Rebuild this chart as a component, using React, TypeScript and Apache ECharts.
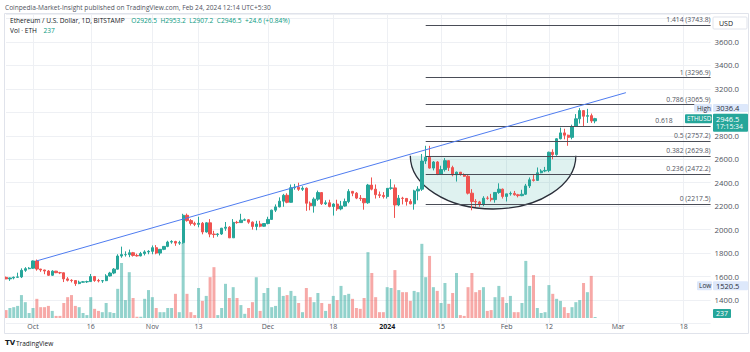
import React, { useEffect, useRef } from "react";
import * as echarts from "echarts";

// ---------- data (ETH/USD daily, Bitstamp) ----------
const START_DATE = "2023-09-24"; // first candle
const AXIS_DAYS = 184; // Sep 24 2023 .. Mar 25 2024 (time axis extends past data)

const opens = [
  1593, 1580, 1588, 1594, 1597, 1653, 1667, 1671, 1733, 1664,
  1656, 1647, 1611, 1646, 1633, 1632, 1580, 1568, 1566, 1540,
  1552, 1555, 1557, 1600, 1566, 1563, 1565, 1605, 1630, 1663,
  1775, 1787, 1787, 1803, 1780, 1776, 1796, 1810, 1815, 1846,
  1800, 1832, 1857, 1894, 1899, 1885, 1889, 2122, 2077, 2053,
  2045, 2054, 1980, 2058, 1962, 1958, 1963, 2012, 2021, 1930,
  2062, 2060, 2081, 2084, 2064, 2027, 2048, 2029, 2052, 2087,
  2166, 2194, 2243, 2293, 2233, 2357, 2362, 2344, 2353, 2225,
  2203, 2260, 2316, 2221, 2229, 2197, 2218, 2177, 2201, 2239,
  2326, 2311, 2269, 2265, 2229, 2380, 2345, 2298, 2292, 2282,
  2352, 2356, 2210, 2268, 2266, 2240, 2220, 2330, 2345, 2585,
  2617, 2525, 2577, 2472, 2512, 2588, 2529, 2468, 2490, 2470,
  2455, 2311, 2240, 2236, 2217, 2268, 2267, 2256, 2317, 2345,
  2283, 2305, 2309, 2297, 2290, 2302, 2373, 2425, 2420, 2485,
  2500, 2505, 2660, 2640, 2775, 2825, 2805, 2787, 2880, 2945,
  3015, 2967, 2972, 2926.5,
];
const closes = [
  1580, 1588, 1594, 1597, 1653, 1667, 1671, 1733, 1664, 1656,
  1647, 1611, 1646, 1633, 1632, 1580, 1568, 1566, 1540, 1552,
  1555, 1557, 1600, 1566, 1563, 1565, 1605, 1630, 1663, 1775,
  1787, 1787, 1803, 1780, 1776, 1796, 1810, 1815, 1846, 1800,
  1832, 1857, 1894, 1899, 1885, 1889, 2122, 2077, 2053, 2045,
  2054, 1980, 2058, 1962, 1958, 1963, 2012, 2021, 1930, 2062,
  2060, 2081, 2084, 2064, 2027, 2048, 2029, 2052, 2087, 2166,
  2194, 2243, 2293, 2233, 2357, 2362, 2344, 2353, 2225, 2203,
  2260, 2316, 2221, 2229, 2197, 2218, 2177, 2201, 2239, 2326,
  2311, 2269, 2265, 2229, 2380, 2345, 2298, 2292, 2282, 2352,
  2356, 2210, 2268, 2266, 2240, 2220, 2330, 2345, 2585, 2617,
  2525, 2577, 2472, 2512, 2588, 2529, 2468, 2490, 2470, 2455,
  2311, 2240, 2236, 2217, 2268, 2267, 2256, 2317, 2345, 2283,
  2305, 2309, 2297, 2290, 2302, 2373, 2425, 2420, 2485, 2500,
  2505, 2660, 2640, 2775, 2825, 2805, 2787, 2880, 2945, 3015,
  2967, 2972, 2926.5, 2946.5,
];
const lows = [
  1578, 1563, 1576, 1590, 1587, 1640, 1662, 1665, 1650, 1640,
  1620, 1605, 1605, 1629, 1621, 1553, 1558, 1550, 1520.5, 1535,
  1548, 1545, 1554, 1555, 1550, 1546, 1561, 1600, 1620, 1660,
  1760, 1770, 1765, 1770, 1770, 1772, 1780, 1790, 1790, 1790,
  1780, 1825, 1850, 1880, 1862, 1870, 1880, 2068, 2035, 2030,
  2020, 1960, 1975, 1935, 1930, 1940, 1955, 1990, 1928, 1930,
  2050, 2060, 2076, 2050, 2000, 1995, 2020, 2025, 2045, 2085,
  2150, 2190, 2195, 2225, 2230, 2340, 2330, 2330, 2160, 2165,
  2145, 2245, 2210, 2210, 2190, 2120, 2160, 2165, 2195, 2225,
  2285, 2260, 2245, 2170, 2220, 2335, 2265, 2270, 2265, 2265,
  2340, 2100, 2200, 2215, 2205, 2215, 2170, 2250, 2330, 2560,
  2520, 2505, 2465, 2470, 2495, 2500, 2455, 2410, 2460, 2450,
  2300, 2165, 2195, 2195, 2200, 2255, 2240, 2230, 2305, 2265,
  2240, 2290, 2290, 2275, 2285, 2295, 2355, 2410, 2415, 2480,
  2490, 2490, 2600, 2630, 2770, 2770, 2715, 2770, 2875, 2905,
  2880, 2910, 2910, 2907.2,
];
const highs = [
  1600, 1592, 1600, 1633, 1670, 1680, 1680, 1737, 1745, 1665,
  1658, 1655, 1654, 1648, 1640, 1635, 1595, 1577, 1568, 1565,
  1562, 1565, 1622, 1605, 1580, 1570, 1620, 1640, 1672, 1790,
  1855, 1815, 1830, 1810, 1795, 1810, 1824, 1825, 1865, 1868,
  1835, 1860, 1905, 1910, 1905, 1905, 2135, 2137, 2090, 2068,
  2110, 2065, 2063, 2090, 1990, 1970, 2015, 2065, 2030, 2090,
  2075, 2135, 2095, 2090, 2070, 2075, 2075, 2055, 2110, 2170,
  2215, 2275, 2305, 2310, 2385, 2390, 2400, 2370, 2360, 2240,
  2275, 2333, 2320, 2250, 2255, 2225, 2255, 2245, 2265, 2345,
  2330, 2320, 2295, 2270, 2390, 2445, 2385, 2325, 2320, 2355,
  2430, 2385, 2295, 2280, 2270, 2260, 2340, 2370, 2645, 2715,
  2715, 2585, 2585, 2545, 2610, 2590, 2545, 2495, 2485, 2480,
  2465, 2345, 2260, 2245, 2285, 2285, 2305, 2320, 2395, 2350,
  2305, 2325, 2330, 2305, 2340, 2390, 2445, 2465, 2530, 2515,
  2535, 2665, 2685, 2780, 2870, 2860, 2810, 2895, 2985, 3036.4,
  3020, 3030, 2990, 2953.2,
];
// daily volume, ETH
const volumes = [
  1900, 2400, 2600, 2900, 5500, 3800, 1200, 2400, 4600, 2600,
  2600, 2900, 1700, 500, 500, 3600, 5000, 5500, 2900, 2600,
  1200, 700, 5000, 2200, 1700, 1400, 3600, 1400, 1200, 7000,
  13200, 4300, 11000, 4800, 300, 300, 4600, 6700, 5000, 2400,
  1400, 1400, 2400, 2400, 5800, 1400, 18000, 5800, 1400, 700,
  7200, 4100, 5300, 9800, 12200, 700, 2400, 8200, 4800, 7400,
  4800, 3100, 1000, 2400, 3800, 9800, 1700, 6000, 7200, 2600,
  2900, 7400, 5300, 5500, 6500, 5300, 3600, 1400, 7200, 5000,
  3800, 6000, 3600, 1700, 3400, 5300, 4300, 7700, 5500, 5800,
  4600, 2400, 2200, 4800, 15800, 10800, 5000, 1400, 1400, 7400,
  7200, 11500, 6700, 6200, 6200, 4100, 6500, 6200, 17800, 9800,
  14900, 7400, 6500, 3600, 8400, 3400, 6000, 10800, 700, 500,
  7400, 10800, 6200, 6700, 7400, 1700, 1900, 5000, 7700, 5000,
  3600, 5300, 1400, 1400, 3600, 13700, 7700, 10300, 2400, 1200,
  1400, 7900, 5800, 4600, 4100, 2600, 1200, 2600, 3800, 4300,
  8400, 6200, 10100, 237,
];

// time-axis tick labels
const tickDates = [
  "2023-10-01", "2023-10-16", "2023-11-01", "2023-11-13", "2023-12-01", "2023-12-18",
  "2024-01-01", "2024-01-15", "2024-02-01", "2024-02-12", "2024-03-01", "2024-03-18",
];
const tickLabels = ["Oct", "16", "Nov", "13", "Dec", "18", "2024", "15", "Feb", "12", "Mar", "18"];

// price-axis labels that are visible (3000 sits under the badges)
const priceLabels = [1400, 1600, 1800, 2000, 2200, 2400, 2600, 2800, 3200, 3400, 3600];

// Fibonacci retracement drawing
const fibRatios = ["0", "0.236", "0.382", "0.5", "0.618", "0.786", "1", "1.414"];
const fibPrices = [2217.5, 2472.2, 2629.8, 2757.2, 2884.6, 3065.9, 3296.9, 3743.8];
const fibStartDate = "2024-01-11";
const fibHiddenPriceRatio = "0.618"; // its price text sits under the ETHUSD badge

// trend line drawing
const trendDates = ["2023-10-02", "2024-03-03"];
const trendPrices = [1734, 3168];

// cup drawing (start, end, rim price, bottom price)
const cupDates = ["2024-01-07", "2024-02-19"];
const cupRim = 2630;
const cupBottom = 2176;

// header / status values
const lastO = "2926.5", lastH = "2953.2", lastL = "2907.2", lastC = "2946.5";
const lastChange = "+24.6 (+0.84%)";
const rangeHigh = 3036.4;
const rangeLow = 1520.5;
const lastPrice = 2946.5;
const countdown = "17:15:34";

const UP = "#26a69a";
const DOWN = "#ef5350";
const UP_VOL = "rgba(38,166,154,0.5)";
const DOWN_VOL = "rgba(239,83,80,0.5)";
const FONT = "'Open Sans', sans-serif";
const TXT = "#50535e";

function buildDates(start: string, count: number): string[] {
  const t0 = Date.UTC(+start.slice(0, 4), +start.slice(5, 7) - 1, +start.slice(8, 10));
  const out: string[] = [];
  for (let i = 0; i < count; i++) out.push(new Date(t0 + i * 86400000).toISOString().slice(0, 10));
  return out;
}

export default function App() {
  const ref = useRef<HTMLDivElement>(null);

  useEffect(() => {
    const el = ref.current!;
    const chart = echarts.init(el, null, { renderer: "svg" });
    const dates = buildDates(START_DATE, AXIS_DAYS);
    const candles = opens.map((o, i) => [o, closes[i], lows[i], highs[i]]);
    const lastDate = dates[dates.length - 1];

    const fibLines = fibPrices.map((p, k) => [
      {
        coord: [fibStartDate, p],
        label:
          fibRatios[k] === fibHiddenPriceRatio
            ? { formatter: fibRatios[k], padding: [0, 38, 0, 0] }
            : { formatter: `${fibRatios[k]} (${p.toFixed(1)})` },
      },
      { coord: [lastDate, p] },
    ]);

    const tickSet = new Set(tickDates);

    const option: any = {
      animation: false,
      backgroundColor: "#ffffff",
      grid: [
        { left: 6.05, right: 39.4, top: 14, bottom: 28.55 },
        { left: 6.05, right: 39.4, top: 200, bottom: 34 },
      ],
      xAxis: [
        {
          type: "category",
          gridIndex: 0,
          data: dates,
          boundaryGap: false,
          axisLine: { show: false },
          axisTick: { show: false },
          axisLabel: { show: false },
          splitLine: {
            show: true,
            interval: (_i: number, v: string) => tickSet.has(v),
            lineStyle: { color: "#eef0f4", width: 1 },
          },
        },
        {
          type: "category",
          gridIndex: 1,
          data: dates,
          boundaryGap: false,
          axisLine: { show: false },
          axisTick: { show: false },
          splitLine: { show: false },
          axisLabel: {
            show: true,
            interval: (_i: number, v: string) => tickSet.has(v),
            margin: 5,
            fontSize: 7,
            fontFamily: FONT,
            color: TXT,
            formatter: (v: string) => {
              const k = tickDates.indexOf(v);
              if (k < 0) return "";
              return tickLabels[k] === "2024" ? `{b|${tickLabels[k]}}` : tickLabels[k];
            },
            rich: { b: { fontWeight: "bold", fontSize: 7, fontFamily: FONT, color: "#131722" } },
          },
        },
      ],
      yAxis: [
        {
          type: "value",
          gridIndex: 0,
          position: "right",
          min: 1200,
          max: 3838.8,
          interval: 200,
          axisLine: { show: false },
          axisTick: { show: false },
          splitLine: { show: true, lineStyle: { color: "#eef0f4" } },
          axisLabel: {
            margin: 4,
            fontSize: 7.8,
            fontFamily: FONT,
            color: TXT,
            align: "left",
            formatter: (v: number) => (priceLabels.includes(v) ? v.toFixed(1) : ""),
          },
        },
        {
          type: "value",
          gridIndex: 1,
          min: 0,
          max: 28320,
          show: false,
          splitLine: { show: false },
        },
      ],
      series: [
        {
          type: "custom",
          name: "cup",
          xAxisIndex: 0,
          yAxisIndex: 0,
          z: 1,
          data: [[cupDates[0], cupRim]],
          renderItem: (_p: any, api: any) => {
            const L = api.coord([cupDates[0], cupRim]);
            const R = api.coord([cupDates[1], cupRim]);
            const B = api.coord([cupDates[0], cupBottom]);
            const rx = (R[0] - L[0]) / 2;
            const ry = B[1] - L[1];
            const arc = `M${L[0]} ${L[1]} A${rx} ${ry} 0 0 0 ${R[0]} ${R[1]}`;
            return {
              type: "group",
              children: [
                { type: "path", shape: { pathData: arc + " Z" }, style: { fill: "rgba(38,166,154,0.15)", stroke: null } },
                { type: "path", shape: { pathData: arc }, style: { fill: null, stroke: "#2a2e39", lineWidth: 1.3 } },
              ],
            };
          },
        },
        {
          type: "bar",
          name: "Vol",
          xAxisIndex: 1,
          yAxisIndex: 1,
          z: 1,
          barWidth: 3,
          data: volumes.map((v, i) => ({
            value: v,
            itemStyle: { color: closes[i] >= opens[i] ? UP_VOL : DOWN_VOL },
          })),
        },
        {
          type: "candlestick",
          name: "ETHUSD",
          xAxisIndex: 0,
          yAxisIndex: 0,
          z: 3,
          barWidth: 2.8,
          data: candles,
          itemStyle: { color: UP, color0: DOWN, borderColor: UP, borderColor0: DOWN, borderWidth: 1 },
          markLine: {
            silent: true,
            symbol: ["none", "none"],
            z: 4,
            lineStyle: { color: "#4a4d57", width: 1, type: "solid" },
            label: {
              position: "insideEndTop",
              distance: [0, 2],
              fontSize: 6.8,
              fontFamily: FONT,
              color: TXT,
            },
            data: [
              ...fibLines,
              [
                { coord: [trendDates[0], trendPrices[0]], lineStyle: { color: "#4f7cf0", width: 1 }, label: { show: false } },
                { coord: [trendDates[1], trendPrices[1]] },
              ],
            ],
          },
        },
      ],
    };
    chart.setOption(option);

    const yP = (v: number) => chart.convertToPixel({ yAxisIndex: 0 }, v) as number;
    const yV = (v: number) => chart.convertToPixel({ yAxisIndex: 1 }, v) as number;
    const axisX = 713;
    const yHi = yP(rangeHigh);
    const yLo = yP(rangeLow);
    const yLast = yP(lastPrice);
    const yVol = Math.min(yV(volumes[volumes.length - 1]), 313.5);

    const txt = (x: number, y: number, text: string, fill: string, extra: any = {}) => ({
      type: "text",
      x,
      y,
      style: { text, fill, fontSize: 7, lineHeight: 8, fontFamily: FONT, textVerticalAlign: "middle", ...extra },
      z: 100,
    });
    const box = (x: number, y: number, w: number, h: number, fill: string, extra: any = {}) => ({
      type: "rect",
      shape: { x, y, width: w, height: h, r: 1 },
      style: { fill, ...extra },
      z: 99,
    });

    chart.setOption({
      graphic: [
        // frame
        { type: "rect", shape: { x: 4.5, y: 13.5, width: 744, height: 320 }, style: { fill: null, stroke: "#e0e3eb", lineWidth: 1 }, z: 50, silent: true },
        // header
        txt(5, 7, "Coinpedia-Market-Insight published on TradingView.com, Feb 24, 2024 12:14 UTC+5:30", TXT, { fontSize: 6.6 }),
        {
          type: "text",
          x: 10,
          y: 20,
          z: 100,
          style: {
            text: `{a|Ethereum / U.S. Dollar, 1D, BITSTAMP}  {b|O${lastO}  H${lastH}  L${lastL}  C${lastC}  ${lastChange}}`,
            textVerticalAlign: "middle",
            rich: {
              a: { fill: "#131722", fontSize: 6.6, fontFamily: FONT },
              b: { fill: "#089981", fontSize: 6.6, fontFamily: FONT },
            },
          },
        },
        {
          type: "text",
          x: 10,
          y: 30,
          z: 100,
          style: {
            text: `{a|Vol · ETH}  {b|237}`,
            textVerticalAlign: "middle",
            rich: {
              a: { fill: "#131722", fontSize: 6.6, fontFamily: FONT },
              b: { fill: "#089981", fontSize: 6.6, fontFamily: FONT },
            },
          },
        },
        // USD
        box(axisX, 17, 34, 12, "#ffffff", { stroke: "#e0e3eb", lineWidth: 1 }),
        txt(axisX + 6, 23, "USD", "#131722"),
        // High
        box(694, yHi - 4, 18, 8, "#dde8fb"),
        txt(697, yHi, "High", "#2a2e39", { fontSize: 6.5 }),
        box(axisX, yHi - 4, 35, 8, "#dde8fb"),
        txt(axisX + 3, yHi, rangeHigh.toFixed(1), "#2a2e39", { fontSize: 7.5 }),
        // last price
        box(685, yLast - 4.5, 27, 9, UP),
        txt(687, yLast, "ETHUSD", "#ffffff", { fontSize: 6.3 }),
        box(axisX, yLast - 5, 35, 18, UP),
        txt(axisX + 3, yLast, lastPrice.toFixed(1), "#ffffff", { fontSize: 7.5 }),
        txt(axisX + 3, yLast + 8, countdown, "#ffffff", { fontSize: 6.8 }),
        // Low
        box(697, yLo - 4.5, 15, 9, "#dde8fb"),
        txt(699, yLo, "Low", "#2a2e39", { fontSize: 6.5 }),
        box(axisX, yLo - 4.5, 35, 9, "#dde8fb"),
        txt(axisX + 3, yLo, rangeLow.toFixed(1), "#2a2e39", { fontSize: 7.5 }),
        // volume
        box(axisX, yVol - 4.5, 18, 9, UP),
        txt(axisX + 3, yVol, String(volumes[volumes.length - 1]), "#ffffff"),
        // TradingView footer
        txt(16, 343, "TradingView", "#131722", { fontSize: 6.5 }),
        { type: "text", x: 5, y: 343, z: 100, style: { text: "TV", fill: "#131722", fontSize: 7, fontWeight: "bold", fontFamily: "'DejaVu Sans'", textVerticalAlign: "middle" } },
      ],
    });

    return () => chart.dispose();
  }, []);

  return (
    <div
      ref={ref}
      style={{ position: "fixed", left: 0, top: 0, width: 750, height: 352, background: "#fff" }}
    />
  );
}
